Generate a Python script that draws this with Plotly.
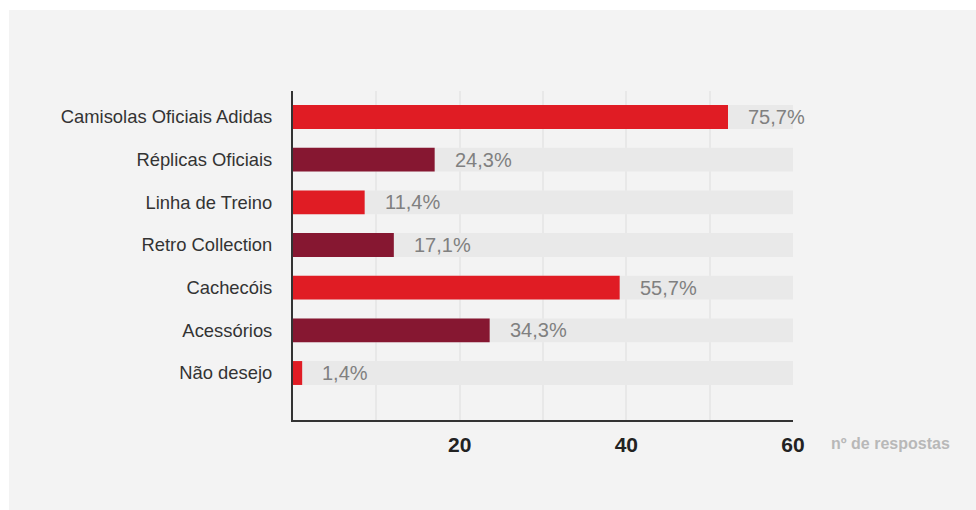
import plotly.graph_objects as go

categories = ["Camisolas Oficiais Adidas", "Réplicas Oficiais", "Linha de Treino",
              "Retro Collection", "Cachecóis", "Acessórios", "Não desejo"]
values = [52.2, 17.0, 8.6, 12.1, 39.2, 23.6, 1.1]
labels = ["75,7%", "24,3%", "11,4%", "17,1%", "55,7%", "34,3%", "1,4%"]
bar_colors = ["#e01c24", "#861731", "#e01c24", "#861731", "#e01c24", "#861731", "#e01c24"]
axis_max = 60
background = [axis_max] * len(categories)
tick_vals = [10, 20, 30, 40, 50, 60]
tick_text = ["", "20", "", "40", "", "60"]

W, H = 976, 510
L, R, T, B = 293, 183, 91, 90
pw, ph = W - L - R, H - T - B

fig = go.Figure()
fig.add_trace(go.Bar(y=categories, x=background, orientation="h", width=0.56,
                     marker=dict(color="#e9e9e9", line=dict(width=0)), hoverinfo="skip"))
fig.add_trace(go.Bar(y=categories, x=values, orientation="h", width=0.56,
                     marker=dict(color=bar_colors, line=dict(width=0))))

for c, v, t in zip(categories, values, labels):
    fig.add_annotation(x=v, y=c, text=t, showarrow=False, xanchor="left", yanchor="middle",
                       xshift=18, font=dict(family="Liberation Sans, Arial, sans-serif", size=20, color="#808080"))

fig.add_annotation(xref="paper", yref="paper", x=(829 - L) / pw, y=(H - B - 443) / ph,
                   text="nº de respostas", showarrow=False, xanchor="left", yanchor="middle",
                   font=dict(family="Liberation Sans, Arial, sans-serif",
                             size=16, color="#b8b8b8", weight="bold"))

# white page margins around the grey panel
fig.add_shape(type="rect", xref="paper", yref="paper", x0=-L / pw, x1=(9 - L) / pw,
              y0=-B / ph, y1=(H - B) / ph, fillcolor="white", line=dict(width=0), layer="below")
fig.add_shape(type="rect", xref="paper", yref="paper", x0=-L / pw, x1=(W - L) / pw,
              y0=(H - B - 10) / ph, y1=(H - B) / ph, fillcolor="white", line=dict(width=0), layer="below")

fig.update_layout(
    width=W, height=H, margin=dict(l=L, r=R, t=T, b=B, pad=0),
    paper_bgcolor="#f3f3f3", plot_bgcolor="#f3f3f3",
    barmode="overlay", showlegend=False,
    xaxis=dict(range=[0, axis_max], tickvals=tick_vals, ticktext=tick_text,
               showgrid=True, gridcolor="#e8e8e8", gridwidth=2, zeroline=False,
               showline=True, linecolor="#333333", linewidth=2, ticks="",
               ticklabelstandoff=5,
               tickfont=dict(family="Liberation Sans, Arial, sans-serif",
                             size=21, color="#222222", weight="bold")),
    yaxis=dict(type="category", range=[6 + 47 / 42.67, -26 / 42.67], showgrid=False, zeroline=False,
               showline=True, linecolor="#333333", linewidth=2, ticks="",
               ticklabelstandoff=15,
               tickfont=dict(family="Liberation Sans, Arial, sans-serif", size=18.4, color="#333333")),
)

fig.write_html("out.html")
